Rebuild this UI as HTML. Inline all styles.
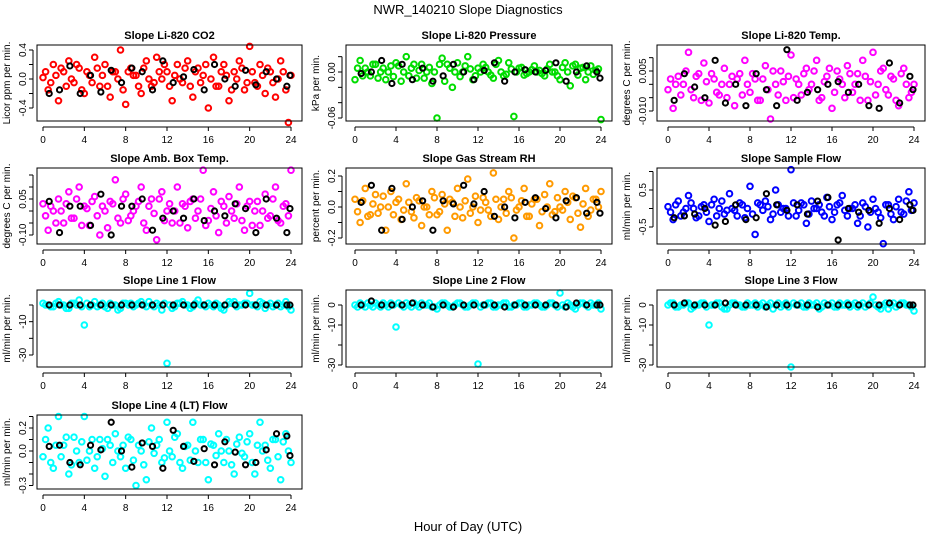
<!DOCTYPE html>
<html><head><meta charset="utf-8">
<style>
body{margin:0;background:#fff;}
svg{display:block;font-family:"Liberation Sans",sans-serif;}
</style></head>
<body>
<svg id="chart" width="936" height="540" viewBox="0 0 936 540" xmlns="http://www.w3.org/2000/svg">
<rect width="936" height="540" fill="#fff"/>
<text x="468" y="14" text-anchor="middle" font-size="13">NWR_140210  Slope Diagnostics</text>
<text x="468" y="531" text-anchor="middle" font-size="13">Hour of Day (UTC)</text>
</svg>
<script>
const hours = [0,0.5,1,1.5,2,2.5,3,3.5,4,4.5,5,5.5,6,6.5,7,7.5,8,8.5,9,9.5,10,10.5,11,11.5,12,12.5,13,13.5,14,14.5,15,15.5,16,16.5,17,17.5,18,18.5,19,19.5,20,20.5,21,21.5,22,22.5,23,23.5,24];
const hours2 = [0.25,0.75,1.25,1.75,2.25,2.75,3.25,3.75,4.25,4.75,5.25,5.75,6.25,6.75,7.25,7.75,8.25,8.75,9.25,9.75,10.25,10.75,11.25,11.75,12.25,12.75,13.25,13.75,14.25,14.75,15.25,15.75,16.25,16.75,17.25,17.75,18.25,18.75,19.25,19.75,20.25,20.75,21.25,21.75,22.25,22.75,23.25,23.75];
const blackHours = [0.6,1.6,2.6,3.6,4.6,5.6,6.6,7.6,8.6,9.6,10.6,11.6,12.6,13.6,14.6,15.6,16.6,17.6,18.6,19.6,20.6,21.6,22.6,23.6,23.9];
const xTicks = [0,4,8,12,16,20,24];

const co2Vals = [0.02,-0.15,0.2,-0.3,0.1,0.25,-0.05,0.15,-0.2,0.05,0.3,-0.1,0.2,-0.25,0.1,0.4,-0.35,0.15,0.05,-0.2,0.25,-0.1,0.3,0.0,0.1,-0.3,0.2,-0.05,0.25,-0.25,0.15,0.05,-0.4,0.3,-0.1,0.2,-0.3,0.1,0.25,-0.15,0.45,-0.05,0.2,-0.2,0.1,-0.25,0.25,-0.15,0.05];
const co2Vals2 = [0.1,-0.05,0.05,0.15,-0.1,0.0,0.2,-0.15,0.1,-0.05,0.15,0.05,-0.1,0.1,0.0,-0.15,0.1,0.05,-0.1,0.15,0.0,-0.05,0.1,0.2,-0.1,0.05,0.0,0.15,-0.1,0.1,-0.05,0.2,0.0,-0.1,0.1,0.05,-0.15,0.0,0.15,-0.05,0.1,-0.1,0.05,0.15,-0.05,0.0,0.1,-0.6];
const co2Black = [-0.2,-0.15,0.18,-0.2,0.05,-0.18,0.12,-0.05,0.15,0.1,-0.15,0.25,-0.05,0.03,0.13,-0.15,0.2,0.0,-0.1,0.12,-0.08,0.1,0.0,-0.1,0.05];
const presVals = [-0.01,0.015,0.005,-0.005,0.01,0.0,-0.01,0.008,0.012,-0.012,0.02,0.005,-0.008,0.01,0.0,-0.015,-0.06,0.018,0.01,-0.02,0.012,0.0,0.02,-0.01,0.005,0.01,0.0,-0.008,0.015,-0.005,0.012,-0.058,0.005,-0.004,0.0,0.008,0.002,-0.005,0.01,0.0,-0.01,0.012,-0.018,0.01,0.005,-0.01,0.008,0.002,-0.062];
const presVals2 = [0.005,-0.005,0.0,0.01,-0.008,0.005,0.0,-0.006,0.008,0.0,-0.005,0.01,0.002,-0.008,0.006,0.0,0.01,-0.012,0.005,0.0,-0.006,0.008,0.004,-0.005,0.0,0.006,-0.004,0.01,0.0,-0.003,0.004,0.0,0.006,-0.002,0.003,0.0,-0.002,0.004,0.0,-0.005,0.006,0.0,0.008,-0.004,0.006,0.0,-0.003,0.004];
const presBlack = [-0.002,0.0,0.015,-0.015,0.01,-0.01,0.005,-0.012,-0.005,0.01,0.0,-0.01,0.002,0.012,-0.012,0.0,0.003,0.0,0.002,0.012,-0.012,0.0,0.008,0.0,-0.008];
const tempVals = [-0.002,-0.009,0.003,0.0,0.012,-0.005,0.004,0.008,-0.007,0.002,-0.004,0.006,0.0,-0.008,0.004,0.009,-0.003,0.002,-0.006,0.007,-0.013,0.0,0.005,-0.006,0.011,0.002,-0.004,0.006,0.0,0.009,-0.005,0.003,-0.009,0.005,0.0,0.007,-0.003,0.004,0.009,-0.006,0.012,0.0,0.006,-0.004,0.002,-0.008,0.006,-0.005,0.0];
const tempVals2 = [0.002,0.0,-0.004,0.005,-0.002,0.003,-0.006,0.001,0.004,-0.003,0.0,-0.005,0.003,0.002,-0.004,0.0,0.004,-0.006,0.002,-0.002,0.005,-0.004,0.001,0.003,-0.005,0.0,0.004,-0.002,0.005,-0.006,0.001,0.006,-0.003,0.002,-0.005,0.004,0.0,-0.006,0.003,0.001,-0.004,0.005,-0.002,0.003,-0.006,0.004,0.0,-0.003];
const tempBlack = [-0.006,0.004,-0.001,-0.005,0.009,-0.007,0.0,-0.008,0.004,-0.002,-0.008,0.013,-0.006,-0.003,-0.002,0.0,0.001,-0.003,0.0,-0.008,-0.009,0.008,-0.007,0.003,-0.002];
const ambVals = [0.03,-0.08,0.0,0.05,-0.05,0.08,-0.03,0.1,0.02,-0.06,0.06,-0.1,0.0,0.04,0.13,-0.05,0.07,-0.02,0.02,0.1,-0.08,0.05,-0.12,0.08,0.0,-0.05,0.1,0.03,-0.07,0.05,0.0,0.17,-0.04,0.08,-0.09,0.02,0.06,-0.03,0.1,-0.08,0.04,0.0,-0.06,0.07,-0.02,0.1,-0.05,0.03,0.17];
const ambVals2 = [-0.02,0.02,-0.05,0.0,0.03,-0.03,0.05,-0.06,0.01,0.04,-0.02,0.02,-0.07,0.03,-0.03,0.05,-0.04,0.0,0.04,-0.05,0.02,-0.01,0.05,-0.04,0.03,0.0,-0.05,0.02,0.04,-0.03,0.05,-0.06,0.01,-0.02,0.04,-0.05,0.0,0.03,-0.04,0.02,-0.06,0.04,0.0,-0.03,0.05,-0.04,0.02,-0.02];
const ambBlack = [0.04,-0.09,0.02,0.02,-0.06,0.07,-0.1,0.02,0.02,0.05,-0.08,-0.03,0.0,-0.03,0.05,-0.04,0.0,-0.02,0.03,0.01,-0.09,0.05,-0.03,-0.09,0.01];
const rhVals = [0.05,-0.1,0.12,-0.05,0.08,0.0,-0.15,0.1,0.03,-0.08,0.15,-0.03,0.06,-0.12,0.0,0.1,-0.05,0.08,-0.15,0.03,0.12,-0.07,0.18,0.0,-0.1,0.06,-0.02,0.22,-0.08,0.05,0.1,-0.2,0.0,0.12,-0.06,0.05,-0.12,0.08,0.15,-0.03,0.0,0.1,-0.08,0.06,-0.13,0.12,-0.02,0.05,0.1];
const rhVals2 = [-0.03,0.04,-0.06,0.02,-0.04,0.07,0.0,-0.05,0.05,-0.02,0.03,-0.07,0.04,0.0,-0.05,0.06,-0.03,0.02,0.05,-0.06,0.0,0.04,-0.04,0.07,-0.02,0.03,-0.06,0.05,0.0,-0.04,0.06,-0.02,0.04,-0.06,0.02,0.05,-0.03,0.0,-0.05,0.06,-0.02,0.03,0.07,-0.04,0.02,-0.06,0.05,0.0];
const rhBlack = [0.03,0.14,-0.15,0.12,-0.08,0.0,0.04,-0.15,0.04,0.02,0.14,0.02,0.1,-0.06,0.0,-0.07,0.03,0.06,-0.01,-0.07,0.04,0.06,-0.04,0.03,-0.04];
const flowVals = [0.05,-0.3,0.2,-0.1,0.35,0.0,-0.2,0.1,-0.35,0.25,0.0,-0.15,0.4,-0.05,0.15,-0.25,0.6,-0.7,0.1,0.2,-0.3,0.5,-0.1,0.0,1.05,-0.2,0.15,-0.4,0.2,0.0,-0.1,0.3,-0.3,0.1,0.35,-0.2,0.0,-0.4,0.15,-0.5,0.25,-0.1,-0.95,0.1,-0.3,0.25,-0.15,0.45,0.15];
const flowVals2 = [-0.1,0.1,-0.2,0.0,0.15,-0.25,0.05,-0.1,0.1,-0.2,0.2,-0.05,0.0,-0.2,0.1,0.0,-0.15,0.15,-0.05,0.05,-0.15,0.1,0.0,-0.2,0.15,-0.05,0.1,-0.15,0.0,0.1,-0.2,0.05,-0.1,0.15,-0.05,0.0,0.1,-0.2,0.05,-0.1,0.0,-0.25,0.1,-0.15,0.05,-0.1,0.2,-0.05];
const flowBlack = [-0.25,-0.2,-0.15,0.0,-0.45,-0.35,0.1,-0.3,-0.25,0.4,0.1,-0.05,0.1,-0.15,0.2,0.3,-0.85,0.0,-0.1,-0.05,-0.4,0.0,-0.3,0.1,-0.05];
const line1Vals = [1,0,-1,2,0,-2,1,3,-12,-1,2,0,-1,1,0,-2,1,1,0,2,-1,0,1,-3,-35,-2,1,2,0,-1,3,0,1,-1,0,-3,2,2,0,1,7,0,2,-2,1,0,-1,2,-3];
const line1Vals2 = [0,-1,1,0,-2,1,0,-1,1,0,-1,1,-2,0,-3,1,0,-1,1,0,2,-1,0,1,0,-1,1,0,-2,1,0,-1,0,1,-2,0,1,-1,0,1,0,-1,1,0,-1,1,0,-1];
const line1Black = [0,0,0,0,0,0,0,0,0,0,0,0,0,0,0,0,0,0,0,0,0,0,0,0,0];
const line2Vals = [0,1,-1,0,1,-1,0,1,-11,0,1,-1,0,1,0,-1,-2,1,0,-1,1,0,-1,1,-29.5,0,1,-1,0,1,-1,0,1,-1,0,1,0,-1,1,0,6,-1,0,-2,1,0,1,0,-2];
const line2Vals2 = [-1,0,1,-1,0,1,-1,0,1,-1,0,1,-1,0,1,-1,0,1,-1,0,1,-1,0,1,-1,0,1,-1,0,1,-1,0,1,-1,0,1,-1,0,1,-1,0,1,-1,0,1,-1,0,1];
const line2Black = [0,2,0,0,0,1,0,-1,0,-1,0,0,0,0,-1,0,0,0,0,0,-1,1,0,0,0];
const line3Vals = [0,1,-1,0,1,-1,0,1,-10,0,1,-2,0,1,0,-1,0,1,0,-1,1,0,-1,1,-31,0,1,-1,0,1,-1,0,1,-1,0,1,0,-1,1,0,4,-1,0,-2,1,0,1,0,-3];
const line3Vals2 = [1,-1,0,1,-2,0,1,-1,0,1,-1,-2,1,0,-1,1,0,-1,1,0,-2,1,0,-1,1,0,-1,1,0,-2,1,0,-1,1,0,-1,1,0,-1,1,0,-2,1,0,-1,1,0,-1];
const line3Black = [0,1,0,0,0,1,0,0,0,-1,0,0,0,0,-1,0,0,0,0,0,0,1,0,0,0];
const line4Vals = [-0.05,0.2,-0.15,0.3,0.05,-0.2,0.12,-0.1,0.3,0.0,-0.15,0.1,-0.22,0.05,0.15,-0.05,-0.15,0.1,-0.3,0.0,-0.25,0.2,0.05,-0.1,0.25,-0.05,0.15,-0.15,0.05,0.25,-0.1,0.1,-0.25,0.05,0.15,-0.1,0.0,-0.2,0.12,-0.05,0.15,-0.2,0.25,0.05,-0.15,0.1,-0.25,0.15,-0.1];
const line4Vals2 = [0.1,-0.1,0.05,-0.05,0.12,-0.12,0.0,0.08,-0.08,0.1,-0.05,0.02,0.1,-0.1,0.0,0.05,0.12,-0.08,0.05,-0.12,0.08,-0.02,0.1,-0.06,0.0,0.12,-0.1,0.04,-0.08,0.0,0.1,-0.1,0.06,-0.04,0.0,0.1,-0.12,0.06,-0.02,0.08,-0.1,0.05,0.0,-0.08,0.1,-0.05,0.08,0.0];
const line4Black = [0.04,0.05,-0.1,-0.12,0.05,0.01,0.25,0.0,-0.14,0.07,0.04,-0.15,0.18,0.04,-0.09,0.02,-0.12,0.08,-0.01,-0.12,-0.1,0.01,0.15,0.13,-0.04];

const NS = "http://www.w3.org/2000/svg";
const svg = document.getElementById("chart");
function mk(tag, attrs, parent){const e=document.createElementNS(NS,tag);for(const k in attrs)e.setAttribute(k,attrs[k]);(parent||svg).appendChild(e);return e;}

const cols=[{bx:37,bw:265,x0:43,x24:291},{bx:346,bw:266,x0:355,x24:601},{bx:657,bw:268,x0:668,x24:914}];
const rows=[{by:45,bh:76},{by:168,bh:76},{by:290,bh:77},{by:415,bh:74}];

const panels=[
 {name:"co2",title:"Slope Li-820 CO2",ylab:"Licor ppm per min.",r:0,c:0,col:"#ff0000",vals:co2Vals,vals2:co2Vals2,blk:co2Black,v0:0,p0:79,v1:0.4,p1:50,ticks:[0.4,0.2,0,-0.2,-0.4],labs:["0.4","","0.0","","-0.4"]},
 {name:"pressure",title:"Slope Li-820 Pressure",ylab:"kPa per min.",r:0,c:1,col:"#00dd00",vals:presVals,vals2:presVals2,blk:presBlack,v0:0,p0:72,v1:-0.06,p1:118,ticks:[0.02,0,-0.02,-0.04,-0.06],labs:["","0.00","","","-0.06"]},
 {name:"temp",title:"Slope Li-820 Temp.",ylab:"degrees C per min.",r:0,c:2,col:"#ff00ff",vals:tempVals,vals2:tempVals2,blk:tempBlack,v0:0.005,p0:71,v1:-0.01,p1:111,ticks:[0.01,0.005,0,-0.005,-0.01],labs:["","0.005","","","-0.010"]},
 {name:"amb-temp",title:"Slope Amb. Box Temp.",ylab:"degrees C per min.",r:1,c:0,col:"#ff00ff",vals:ambVals,vals2:ambVals2,blk:ambBlack,v0:0.05,p0:199,v1:-0.1,p1:235,ticks:[0.15,0.1,0.05,0,-0.05,-0.1],labs:["","","0.05","","","-0.10"]},
 {name:"rh",title:"Slope Gas Stream RH",ylab:"percent per min.",r:1,c:1,col:"#ff9a00",vals:rhVals,vals2:rhVals2,blk:rhBlack,v0:0,p0:207,v1:0.2,p1:176,ticks:[0.2,0.1,0,-0.1,-0.2],labs:["0.2","","0.0","","-0.2"]},
 {name:"sample-flow",title:"Slope Sample Flow",ylab:"ml/min per min.",r:1,c:2,col:"#0000ff",vals:flowVals,vals2:flowVals2,blk:flowBlack,v0:0.5,p0:190,v1:-0.5,p1:227,ticks:[1,0.5,0,-0.5],labs:["","0.5","","-0.5"]},
 {name:"line1-flow",title:"Slope Line 1 Flow",ylab:"ml/min per min.",r:2,c:0,col:"#00ffff",vals:line1Vals,vals2:line1Vals2,blk:line1Black,v0:0,p0:305,v1:-30,p1:355,ticks:[0,-10,-20,-30],labs:["","-10","","-30"]},
 {name:"line2-flow",title:"Slope Line 2 Flow",ylab:"ml/min per min.",r:2,c:1,col:"#00ffff",vals:line2Vals,vals2:line2Vals2,blk:line2Black,v0:0,p0:305,v1:-30,p1:365,ticks:[0,-10,-20,-30],labs:["0","-10","","-30"]},
 {name:"line3-flow",title:"Slope Line 3 Flow",ylab:"ml/min per min.",r:2,c:2,col:"#00ffff",vals:line3Vals,vals2:line3Vals2,blk:line3Black,v0:0,p0:305,v1:-30,p1:365,ticks:[0,-10,-20,-30],labs:["0","-10","","-30"]},
 {name:"line4-flow",title:"Slope Line 4 (LT) Flow",ylab:"ml/min per min.",r:3,c:0,col:"#00ffff",vals:line4Vals,vals2:line4Vals2,blk:line4Black,v0:0,p0:451,v1:0.2,p1:428,ticks:[0.3,0.2,0.1,0,-0.1,-0.2,-0.3],labs:["","0.2","","0.0","","","-0.3"]}
];

panels.forEach(p=>{
  const C=cols[p.c], R=rows[p.r];
  const g=mk("g",{});
  
  
  const xs=h=>C.x0+(C.x24-C.x0)*h/24;
  const ys=v=>p.p0+(v-p.v0)*(p.p1-p.p0)/(p.v1-p.v0);
  const t=mk("text",{x:C.bx+C.bw/2,y:R.by-6,"text-anchor":"middle","font-size":"11","font-weight":"bold"},g);
  t.textContent=p.title;
  
  
  const pts=mk("g",{fill:"none",stroke:p.col,"stroke-width":"2"},g);
  
  
  p.vals.forEach((v,i)=>{
    const c=mk("circle",{cx:xs(hours[i]),cy:ys(v),r:2.8},pts);
    
    
  });
  p.vals2.forEach((v,i)=>{
    const c=mk("circle",{cx:xs(hours2[i]),cy:ys(v),r:2.8},pts);
    
    
  });
  const bp=mk("g",{fill:"none",stroke:"#000","stroke-width":"2"},g);
  
  
  p.blk.forEach((v,i)=>{
    const c=mk("circle",{cx:xs(blackHours[i]),cy:ys(v),r:2.6},bp);
    
    
  });
  const box=mk("rect",{x:C.bx,y:R.by,width:C.bw,height:R.bh,fill:"none",stroke:"#000","stroke-width":"1"},g);
  
  
  const xa=mk("g",{},g);
  
  
  const yb=R.by+R.bh;
  mk("line",{x1:xs(0),x2:xs(24),y1:yb+6,y2:yb+6,stroke:"#000"},xa);
  xTicks.forEach(h=>{
    mk("line",{x1:xs(h),x2:xs(h),y1:yb+6,y2:yb+10,stroke:"#000"},xa);
    const l=mk("text",{x:xs(h),y:yb+22,"text-anchor":"middle","font-size":"10"},xa);
    l.textContent=h;
    
    
  });
  const ya=mk("g",{},g);
  
  
  const ax=C.bx-4;
  mk("line",{x1:ax,x2:ax,y1:ys(p.ticks[0]),y2:ys(p.ticks[p.ticks.length-1]),stroke:"#000"},ya);
  p.ticks.forEach((v,i)=>{
    const yy=ys(v);
    mk("line",{x1:ax-4,x2:ax,y1:yy,y2:yy,stroke:"#000"},ya);
    if(p.labs[i]){
      const l=mk("text",{x:ax-7,y:yy,"text-anchor":"middle","font-size":"10",transform:`rotate(-90 ${ax-7} ${yy})`},ya);
      l.textContent=p.labs[i];
      
      
    }
  });
  const ylx=C.bx-27, yly=R.by+R.bh/2;
  const yl=mk("text",{x:ylx,y:yly,"text-anchor":"middle","font-size":"10",transform:`rotate(-90 ${ylx} ${yly})`},g);
  yl.textContent=p.ylab;
  
  
});
</script>
</body></html>
